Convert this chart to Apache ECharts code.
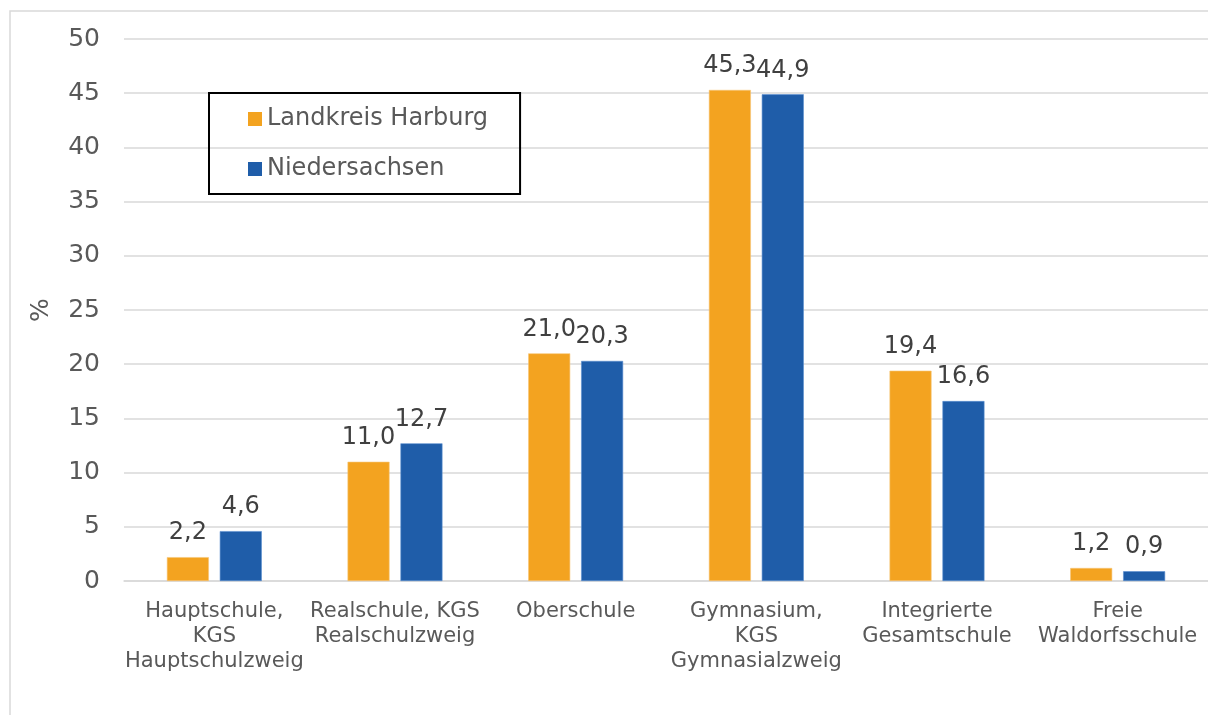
<!DOCTYPE html>
<html>
<head>
<meta charset="utf-8">
<script src="https://cdn.jsdelivr.net/npm/echarts@6/dist/echarts.min.js"></script>
<style>
  html, body { margin: 0; padding: 0; background: #fff; }
  #chart { width: 1208px; height: 715px; }
</style>
</head>
<body>
<div id="chart"></div>
<script>
// Schulformen: Anteil der Schülerinnen und Schüler in %
const categories = [
  'Hauptschule,\nKGS\nHauptschulzweig',
  'Realschule, KGS\nRealschulzweig',
  'Oberschule',
  'Gymnasium,\nKGS\nGymnasialzweig',
  'Integrierte\nGesamtschule',
  'Freie\nWaldorfsschule'
];
const landkreisHarburg = [2.2, 11.0, 21.0, 45.3, 19.4, 1.2];
const niedersachsen = [4.6, 12.7, 20.3, 44.9, 16.6, 0.9];
const yTicks = { min: 0, max: 50, interval: 5 };

const FONT = '"DejaVu Sans", Verdana, sans-serif';
const fmt = v => v.toFixed(1).replace('.', ',');

const valueLabel = {
  show: true,
  position: 'top',
  distance: 12,
  fontFamily: FONT,
  fontSize: 24,
  color: '#404040',
  formatter: p => fmt(p.value)
};

const chart = echarts.init(document.getElementById('chart'), null, { renderer: 'canvas' });
chart.setOption({
  animation: false,
  backgroundColor: '#fff',
  graphic: [{
    type: 'rect',
    shape: { x: 10, y: 11, width: 1220, height: 720 },
    style: { fill: 'none', stroke: '#d9d9d9', lineWidth: 1.5 },
    silent: true,
    z: -10
  }],
  grid: { left: 124, top: 39, bottom: 134, width: 1097, containLabel: false },
  legend: {
    orient: 'vertical',
    left: 209,
    top: 93,
    padding: [14, 32, 13, 39],
    borderColor: '#000',
    borderWidth: 2,
    itemWidth: 14,
    itemHeight: 14,
    itemGap: 26,
    icon: 'rect',
    itemStyle: { borderWidth: 0 },
    textStyle: { fontFamily: FONT, fontSize: 24, color: '#595959', lineHeight: 24 },
    data: ['Landkreis Harburg', 'Niedersachsen']
  },
  xAxis: {
    type: 'category',
    data: categories,
    axisLine: { show: true, lineStyle: { color: '#d9d9d9', width: 1.5 } },
    axisTick: { show: false },
    axisLabel: {
      interval: 0,
      margin: 18,
      fontFamily: FONT,
      fontSize: 21,
      lineHeight: 25,
      color: '#595959'
    }
  },
  yAxis: {
    type: 'value',
    min: yTicks.min,
    max: yTicks.max,
    interval: yTicks.interval,
    name: '%',
    nameLocation: 'middle',
    nameGap: 70,
    nameRotate: 90,
    nameTextStyle: { fontFamily: FONT, fontSize: 25, color: '#595959' },
    axisLine: { show: false },
    axisTick: { show: false },
    axisLabel: { margin: 24, fontFamily: FONT, fontSize: 25, color: '#595959' },
    splitLine: { lineStyle: { color: '#d9d9d9', width: 1.5 } }
  },
  series: [
    {
      name: 'Landkreis Harburg',
      type: 'bar',
      data: landkreisHarburg,
      barWidth: 42,
      barGap: '26%',
      itemStyle: { color: '#F3A320', borderColor: '#f7c677', borderWidth: 0.6 },
      label: valueLabel
    },
    {
      name: 'Niedersachsen',
      type: 'bar',
      data: niedersachsen,
      barWidth: 42,
      barGap: '26%',
      itemStyle: { color: '#1F5DA9', borderColor: '#5b8ed0', borderWidth: 0.6 },
      label: valueLabel
    }
  ]
});
</script>
</body>
</html>
